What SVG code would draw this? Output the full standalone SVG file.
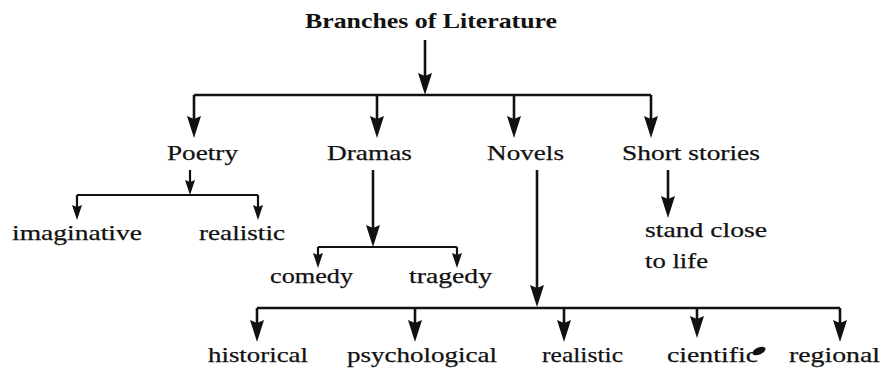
<svg xmlns="http://www.w3.org/2000/svg" width="881" height="370" viewBox="0 0 881 370">
<defs>
<style>
text{font-family:"Liberation Serif","DejaVu Serif",serif;font-size:22px;fill:#111;stroke:#111;stroke-width:0.25;}
.title{font-weight:bold;font-size:21px;stroke-width:0;}
.c{fill:none;stroke:#111;stroke-width:2.6;}
.s{stroke-width:2.2;}
</style>
<marker id="big" markerUnits="userSpaceOnUse" markerWidth="24" markerHeight="14" viewBox="0 0 22 14" refX="12" refY="7" orient="auto">
<path d="M0,0 L22,7 L0,14 L3,7 z" fill="#111"/>
</marker>
<marker id="small" markerUnits="userSpaceOnUse" markerWidth="16" markerHeight="10" viewBox="0 0 15 10" refX="9" refY="5" orient="auto">
<path d="M0,0 L15,5 L0,10 L2,5 z" fill="#111"/>
</marker>
</defs>
<rect width="881" height="370" fill="#fff"/>
<g id="connectors">
<path class="c" d="M425,40 V85" marker-end="url(#big)"/>
<path class="c" d="M194,95 H651"/>
<path class="c" d="M194,95 V128" marker-end="url(#big)"/>
<path class="c" d="M377,95 V128" marker-end="url(#big)"/>
<path class="c" d="M514,95 V128" marker-end="url(#big)"/>
<path class="c" d="M651,95 V128" marker-end="url(#big)"/>
<path class="c s" d="M190,170 V189" marker-end="url(#small)"/>
<path class="c s" d="M77,195 H258"/>
<path class="c s" d="M77,195 V214" marker-end="url(#small)"/>
<path class="c s" d="M258,195 V214" marker-end="url(#small)"/>
<path class="c" d="M373,170 V237" marker-end="url(#big)"/>
<path class="c s" d="M318,247 H457"/>
<path class="c s" d="M318,247 V262" marker-end="url(#small)"/>
<path class="c s" d="M457,247 V262" marker-end="url(#small)"/>
<path class="c" d="M537,170 V297" marker-end="url(#big)"/>
<path class="c" d="M257,308 H840"/>
<path class="c" d="M257,308 V332" marker-end="url(#big)"/>
<path class="c" d="M415,308 V332" marker-end="url(#big)"/>
<path class="c" d="M564,308 V332" marker-end="url(#big)"/>
<path class="c" d="M697,308 V328" marker-end="url(#big)"/>
<path class="c" d="M840,308 V332" marker-end="url(#big)"/>
<path class="c" d="M668,170 V208" marker-end="url(#big)"/>
</g>
<g id="n-title"><text class="title" x="305" y="28" textLength="252" lengthAdjust="spacingAndGlyphs">Branches of Literature</text></g>
<g id="n-poetry"><text x="167" y="160" textLength="71" lengthAdjust="spacingAndGlyphs">Poetry</text></g>
<g id="n-dramas"><text x="327" y="160" textLength="85" lengthAdjust="spacingAndGlyphs">Dramas</text></g>
<g id="n-novels"><text x="487" y="160" textLength="77" lengthAdjust="spacingAndGlyphs">Novels</text></g>
<g id="n-short"><text x="622" y="160" textLength="138" lengthAdjust="spacingAndGlyphs">Short stories</text></g>
<g id="n-imaginative"><text x="12" y="240" textLength="130" lengthAdjust="spacingAndGlyphs">imaginative</text></g>
<g id="n-realistic1"><text x="199" y="240" textLength="86" lengthAdjust="spacingAndGlyphs">realistic</text></g>
<g id="n-comedy"><text x="270" y="283" textLength="83" lengthAdjust="spacingAndGlyphs">comedy</text></g>
<g id="n-tragedy"><text x="409" y="283" textLength="83" lengthAdjust="spacingAndGlyphs">tragedy</text></g>
<g id="n-standclose"><text x="645" y="237" textLength="122" lengthAdjust="spacingAndGlyphs">stand close</text><text x="645" y="268" textLength="63" lengthAdjust="spacingAndGlyphs">to life</text></g>
<g id="n-historical"><text x="208" y="362" textLength="100" lengthAdjust="spacingAndGlyphs">historical</text></g>
<g id="n-psychological"><text x="347" y="362" textLength="150" lengthAdjust="spacingAndGlyphs">psychological</text></g>
<g id="n-realistic2"><text x="542" y="362" textLength="81" lengthAdjust="spacingAndGlyphs">realistic</text></g>
<g id="n-cientific"><text x="667" y="362" textLength="91" lengthAdjust="spacingAndGlyphs">cientific</text><ellipse cx="759" cy="351" rx="7" ry="3.5" transform="rotate(-25 759 351)" fill="#111"/></g>
<g id="n-regional"><text x="789" y="362" textLength="91" lengthAdjust="spacingAndGlyphs">regional</text></g>
</svg>
